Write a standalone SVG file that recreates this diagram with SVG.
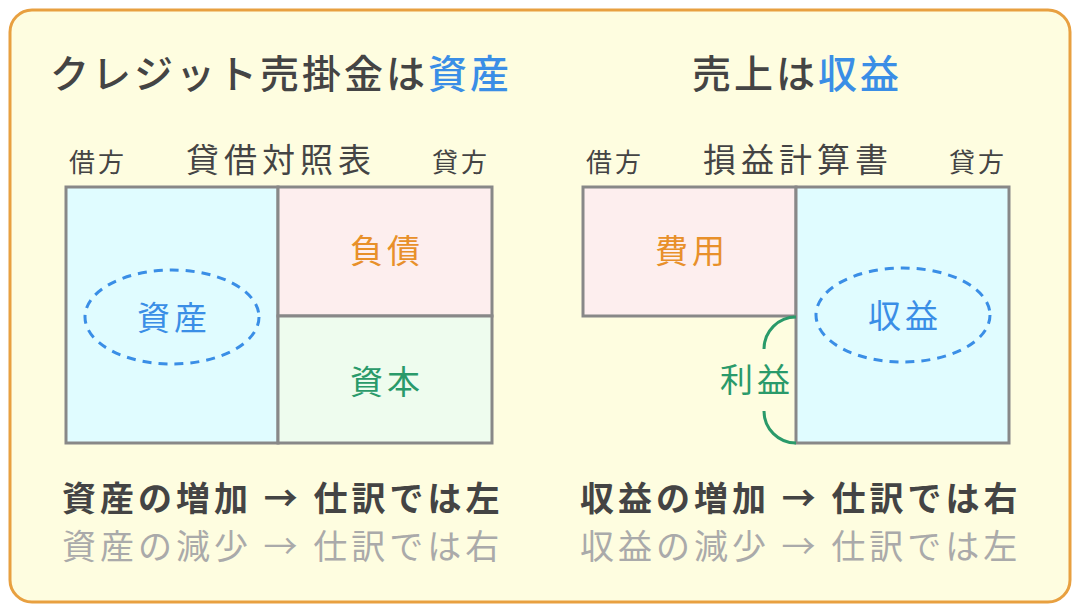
<svg xmlns="http://www.w3.org/2000/svg" width="1080" height="612" viewBox="0 0 1080 612">
<style>
text{font-family:"Noto Sans CJK JP","Noto Sans",sans-serif}
.t{font-size:39px;fill:#444;font-weight:500;letter-spacing:3px}
.b{fill:#3a8ee6}
.s{font-size:26px;fill:#444;letter-spacing:3px}
.h{font-size:33px;fill:#444;letter-spacing:5px}
.c{stroke:#888;stroke-width:3}
.e{fill:none;stroke:#3a8ee6;stroke-width:3;stroke-dasharray:9 7}
.l{font-size:33px;text-anchor:middle;letter-spacing:4px}
.m1{font-size:34px;fill:#444;font-weight:bold;letter-spacing:4px}
.m2{font-size:34px;fill:#aaa;letter-spacing:4px}
</style>
<rect x="10" y="10" width="1060" height="592" rx="22" fill="#fefde0" stroke="#e8a040" stroke-width="3"/>
<g id="titles">
<text class="t" x="50" y="88">クレジット売掛金は<tspan class="b">資産</tspan></text>
<text class="t" x="797" y="88" text-anchor="middle">売上は<tspan class="b">収益</tspan></text>
</g>
<g id="bs">
<text class="s" x="69" y="172">借方</text>
<text class="h" x="281" y="172" text-anchor="middle">貸借対照表</text>
<text class="s" x="432" y="172">貸方</text>
<rect id="asset" class="c" x="66" y="187" width="212" height="256" fill="#e0fcff"/>
<rect id="liab" class="c" x="278" y="187" width="214" height="129" fill="#fdeeee"/>
<rect id="cap" class="c" x="278" y="316" width="214" height="127" fill="#eefcee"/>
<ellipse class="e" cx="172" cy="317" rx="87" ry="47"/>
<text class="l" x="174" y="330" fill="#3a8ee6">資産</text>
<text class="l" x="387" y="263" fill="#e8902a">負債</text>
<text class="l" x="387" y="394" fill="#2a9a6a">資本</text>
</g>
<g id="pl">
<text class="s" x="586" y="172">借方</text>
<text class="h" x="798" y="172" text-anchor="middle">損益計算書</text>
<text class="s" x="949" y="172">貸方</text>
<rect id="exp" class="c" x="583" y="187" width="213" height="129" fill="#fdeeee"/>
<rect id="rev" class="c" x="796" y="187" width="213" height="256" fill="#e0fcff"/>
<ellipse class="e" cx="903" cy="315" rx="87" ry="47"/>
<text class="l" x="905" y="328" fill="#3a8ee6">収益</text>
<text class="l" x="692" y="263" fill="#e8902a">費用</text>
<path d="M796,317 A32,32 0 0 0 764,349 M764,411 A32,32 0 0 0 796,443" fill="none" stroke="#2a9a6a" stroke-width="3"/>
<text class="l" x="757" y="392" fill="#2a9a6a">利益</text>
</g>
<g id="notes">
<text class="m1" x="62" y="511">資産の増加 → 仕訳では左</text>
<text class="m2" x="62" y="559">資産の減少 → 仕訳では右</text>
<text class="m1" x="580" y="511">収益の増加 → 仕訳では右</text>
<text class="m2" x="580" y="559">収益の減少 → 仕訳では左</text>
</g>
</svg>
